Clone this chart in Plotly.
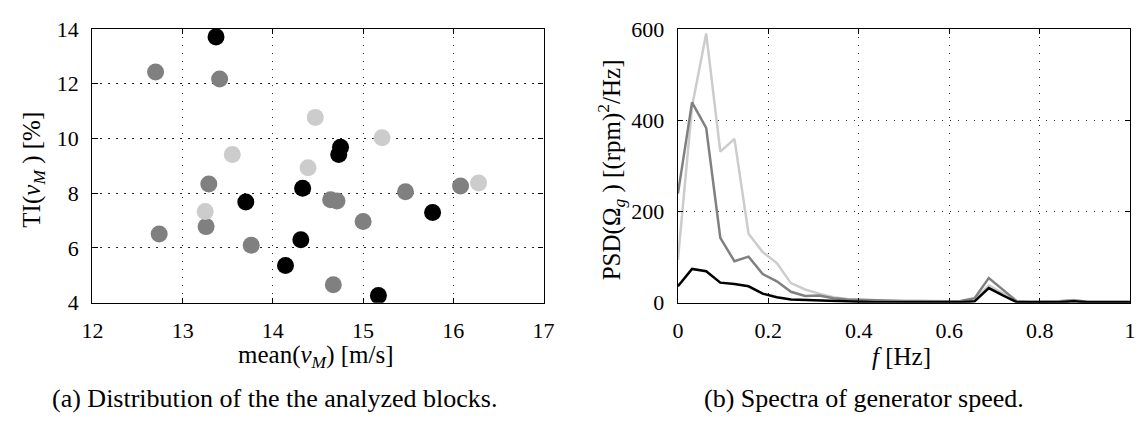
import plotly.graph_objects as go

# ---------------- data: left panel (scatter) ----------------
black_x = [13.37, 13.70, 14.33, 14.31, 14.14, 14.75, 14.73, 15.17, 15.77]
black_y = [13.71, 7.68, 8.18, 6.30, 5.36, 9.68, 9.41, 4.26, 7.30]
dark_x = [12.70, 13.41, 13.29, 13.26, 12.74, 13.76, 14.64, 14.71, 15.00, 14.67, 15.47, 16.08]
dark_y = [12.43, 12.17, 8.34, 6.78, 6.51, 6.10, 7.76, 7.72, 6.97, 4.66, 8.05, 8.26]
light_x = [14.47, 13.55, 14.39, 13.25, 15.21, 16.28]
light_y = [10.77, 9.41, 8.93, 7.33, 10.03, 8.37]

# ---------------- data: right panel (spectra) ----------------
freq = [0.0, 0.03125, 0.0625, 0.09375, 0.125, 0.15625, 0.1875, 0.21875, 0.25,
        0.28125, 0.3125, 0.34375, 0.375, 0.40625, 0.4375, 0.46875, 0.5,
        0.53125, 0.5625, 0.59375, 0.625, 0.65625, 0.6875, 0.71875, 0.75,
        0.78125, 0.8125, 0.84375, 0.875, 0.90625, 0.9375, 0.96875, 1.0]
psd_light = [94, 430, 590, 331, 359, 151, 111, 87, 43, 29, 20, 12, 8, 6, 5, 4, 3,
             3, 3, 2, 3, 6, 38, 20, 3, 2, 2, 3, 6, 2, 2, 2, 2]
psd_dark = [239, 439, 383, 142, 91, 101, 63, 47, 24, 15, 16, 10, 7, 6, 6, 5, 4,
            4, 3, 3, 4, 10, 54, 28, 3, 2, 2, 3, 5, 2, 2, 2, 2]
psd_black = [36, 74, 69, 44, 41, 36, 20, 12, 7, 6, 4, 3, 2, 2, 1, 1, 1,
             1, 1, 1, 1, 3, 32, 16, 1, 1, 1, 1, 3, 1, 1, 1, 1]

x_ticks_left = [12, 13, 14, 15, 16, 17]
y_ticks_left = [4, 6, 8, 10, 12, 14]
x_ticks_right = [0, 0.2, 0.4, 0.6, 0.8, 1]
y_ticks_right = [0, 200, 400, 600]

C_BLACK = "#000000"
C_DARK = "#808080"
C_LIGHT = "#cccccc"
FONT = "Liberation Serif"

fig = go.Figure()

# scatter panel
for xs, ys, c in [(dark_x, dark_y, C_DARK), (light_x, light_y, C_LIGHT), (black_x, black_y, C_BLACK)]:
    fig.add_trace(go.Scatter(x=xs, y=ys, mode="markers", xaxis="x", yaxis="y",
                             marker=dict(size=17, color=c, line=dict(width=0)),
                             showlegend=False, cliponaxis=True))

# spectra panel
for ys, c in [(psd_light, C_LIGHT), (psd_dark, C_DARK), (psd_black, C_BLACK)]:
    fig.add_trace(go.Scatter(x=freq, y=ys, mode="lines", xaxis="x2", yaxis="y2",
                             line=dict(color=c, width=2.5), showlegend=False))

ax_common = dict(showline=True, linecolor="black", linewidth=1.3, mirror="ticks",
                 ticks="inside", ticklen=5, tickwidth=1, tickcolor="black",
                 showgrid=True, gridcolor="rgba(0,0,0,0.85)", gridwidth=1,
                 griddash="1.5px,6.5px", zeroline=False,
                 tickfont=dict(family=FONT, size=22, color="black"))

ydom = [1 - 309 / 423, 1 - 18 / 423]
fig.update_layout(
    width=1144, height=423,
    margin=dict(l=0, r=0, t=0, b=0),
    paper_bgcolor="white", plot_bgcolor="white",
    font=dict(family=FONT, size=22, color="black"),
    xaxis=dict(domain=[83 / 1144, 543 / 1144], range=[12, 17], tickvals=x_ticks_left,
               anchor="y", ticklabelstandoff=8, **ax_common),
    yaxis=dict(domain=ydom, range=[4, 14], tickvals=y_ticks_left,
               anchor="x", ticklabelstandoff=8, **ax_common),
    xaxis2=dict(domain=[680 / 1144, 1141 / 1144], range=[0, 1], tickvals=x_ticks_right,
                anchor="y2", ticklabelstandoff=8, **ax_common),
    yaxis2=dict(domain=ydom, range=[0, 600], tickvals=y_ticks_right,
                anchor="x2", ticklabelstandoff=8, **ax_common),
)

yc = 1 - 168 / 423
annots = [
    dict(text="TI(<i>v</i><sub><i>M</i></sub> ) [%]", x=22 / 1144, y=yc, textangle=-90, size=25),
    dict(text="PSD(Ω<sub><i>g</i></sub> ) [(rpm)<sup>2</sup>/Hz]", x=612 / 1144, y=yc, textangle=-90, size=25),
    dict(text="mean(<i>v</i><sub><i>M</i></sub>) [m/s]", x=311 / 1144, y=1 - 366 / 423, size=25),
    dict(text="<i>f</i> [Hz]", x=908 / 1144, y=1 - 366 / 423, size=25),
    dict(text="(a) Distribution of the the analyzed blocks.", x=269 / 1144, y=1 - 411 / 423, size=26),
    dict(text="(b) Spectra of generator speed.", x=870 / 1144, y=1 - 411 / 423, size=26),
]
for a in annots:
    size = a.pop("size")
    fig.add_annotation(xref="paper", yref="paper", showarrow=False,
                       xanchor="center", yanchor="middle",
                       font=dict(family=FONT, size=size, color="black"), **a)

fig.write_html("out.html")
